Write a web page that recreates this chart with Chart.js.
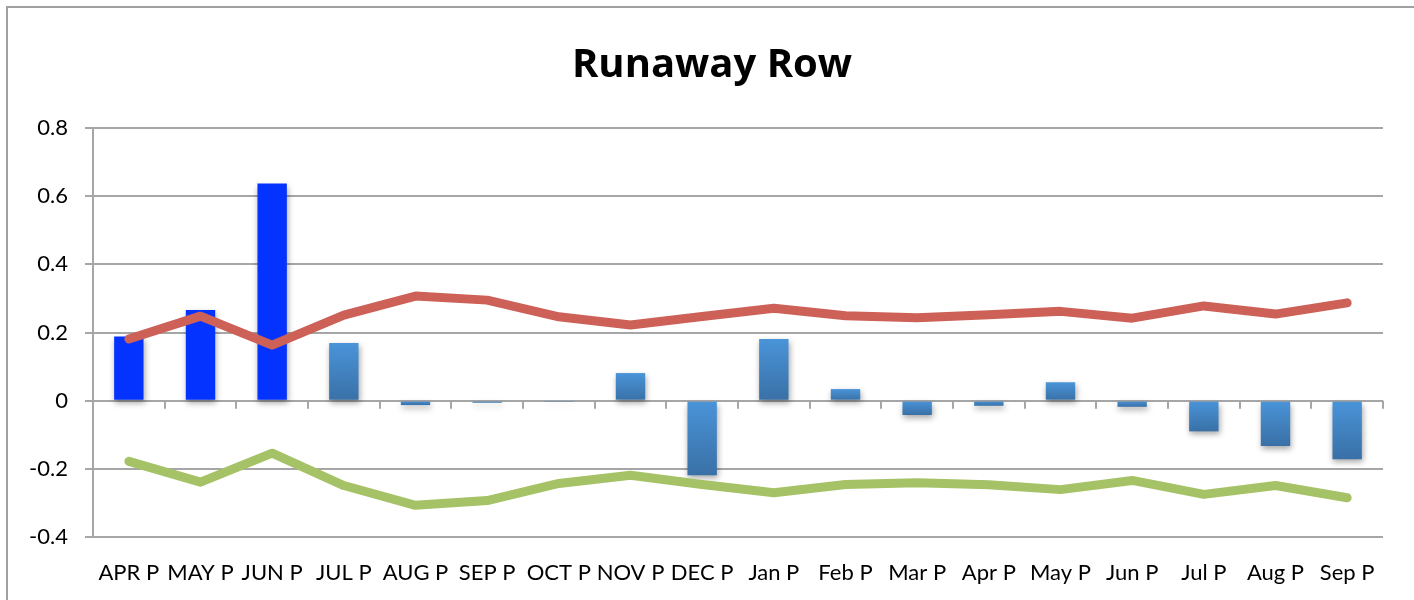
<!DOCTYPE html>
<html>
<head>
<meta charset="utf-8">
<title>Runaway Row</title>
<script src="https://cdn.jsdelivr.net/npm/chart.js@4.4.1/dist/chart.umd.min.js"></script>
<style>
    html, body { margin: 0; padding: 0; background: #fff; overflow: hidden; }
    canvas { display: block; }
</style>
</head>
<body>
<canvas id="runawayChart" width="1414" height="600"></canvas>
<script>
// Data
const months = ['APR P', 'MAY P', 'JUN P', 'JUL P', 'AUG P', 'SEP P', 'OCT P', 'NOV P', 'DEC P',
    'Jan P', 'Feb P', 'Mar P', 'Apr P', 'May P', 'Jun P', 'Jul P', 'Aug P', 'Sep P'];

const rowValues = [0.188, 0.266, 0.637, 0.169, -0.013, -0.006, -0.004, 0.081, -0.219,
    0.181, 0.034, -0.042, -0.015, 0.054, -0.018, -0.090, -0.133, -0.172];

const upperLimit = [0.181, 0.248, 0.163, 0.251, 0.307, 0.295, 0.246, 0.222, 0.247,
    0.271, 0.249, 0.243, 0.252, 0.262, 0.242, 0.278, 0.254, 0.287];

const lowerLimit = [-0.178, -0.239, -0.154, -0.249, -0.307, -0.293, -0.243, -0.219, -0.246,
    -0.270, -0.246, -0.241, -0.247, -0.261, -0.234, -0.275, -0.249, -0.285];

const yTickLabels = ['-0.4', '-0.2', '0', '0.2', '0.4', '0.6', '0.8'];

const chartTitle = 'Runaway Row';

const FONT = 'Lato';
const GRID = '#a6a6a6';

// first three bars are plain bright blue, rest get a gradient
function barColor(context) {
    const i = context.dataIndex;
    if (i < 3) return '#0433ff';
    const chart = context.chart;
    const y = chart.scales.y;
    if (!y || !chart.chartArea) return '#4287cc';
    const v = rowValues[i];
    const top = y.getPixelForValue(Math.max(v, 0));
    const bottom = y.getPixelForValue(Math.min(v, 0));
    const g = chart.ctx.createLinearGradient(0, top, 0, bottom + 0.01);
    g.addColorStop(0, '#4a94d9');
    g.addColorStop(1, '#3970a6');
    return g;
}

// frame, title, bar shadow and category ticks on the zero line
const decorPlugin = {
    id: 'decor',
    beforeDraw(chart) {
        const ctx = chart.ctx;
        ctx.save();
        ctx.strokeStyle = '#a0a0a0';
        ctx.lineWidth = 2;
        ctx.strokeRect(7, 7, chart.width + 20, chart.height + 20);
        // title centred on the whole frame, not just the plot
        ctx.fillStyle = '#000';
        ctx.font = 'bold 40px "Open Sans"';
        ctx.textAlign = 'center';
        ctx.textBaseline = 'alphabetic';
        ctx.fillText(chartTitle, 712, 77);
        ctx.restore();
    },
    beforeDatasetDraw(chart, args) {
        if (args.meta.type === 'bar') {
            const ctx = chart.ctx;
            ctx.save();
            ctx.shadowColor = 'rgba(0,0,0,0.35)';
            ctx.shadowBlur = 6;
            ctx.shadowOffsetX = 1;
            ctx.shadowOffsetY = 3;
        }
    },
    afterDatasetDraw(chart, args) {
        if (args.meta.type === 'bar') chart.ctx.restore();
    },
    beforeDatasetsDraw(chart) {
        const ctx = chart.ctx;
        const area = chart.chartArea;
        const y0 = chart.scales.y.getPixelForValue(0);
        const step = (area.right - area.left) / months.length;
        ctx.save();
        ctx.strokeStyle = GRID;
        ctx.lineWidth = 2;
        ctx.beginPath();
        for (let i = 1; i <= months.length; i++) {
            const x = Math.round(area.left + step * i);
            ctx.moveTo(x, y0);
            ctx.lineTo(x, y0 + 8);
        }
        ctx.stroke();
        ctx.restore();
    }
};

const ctx = document.getElementById('runawayChart').getContext('2d');

new Chart(ctx, {
    data: {
        labels: months,
        datasets: [
            {
                type: 'line',
                label: 'Upper',
                data: upperLimit,
                borderColor: '#cd6158',
                borderWidth: 9,
                pointRadius: 0,
                tension: 0,
                borderCapStyle: 'round',
                borderJoinStyle: 'round',
                order: 1
            },
            {
                type: 'line',
                label: 'Lower',
                data: lowerLimit,
                borderColor: '#a6c266',
                borderWidth: 9,
                pointRadius: 0,
                tension: 0,
                borderCapStyle: 'round',
                borderJoinStyle: 'round',
                order: 1
            },
            {
                type: 'bar',
                label: 'Row',
                data: rowValues,
                backgroundColor: barColor,
                borderWidth: 0,
                categoryPercentage: 1,
                barPercentage: 0.41,
                order: 2
            }
        ]
    },
    options: {
        responsive: false,
        animation: false,
        layout: { padding: { left: 0, right: 31, top: 128, bottom: 0 } },
        plugins: {
            legend: { display: false },
            tooltip: { enabled: false },
            title: { display: false }
        },
        scales: {
            x: {
                afterFit(scale) { scale.height = 63; },
                grid: { display: false, drawTicks: false },
                border: { display: false },
                ticks: {
                    color: '#000',
                    font: { family: FONT, size: 22 },
                    padding: 23,
                    maxRotation: 0,
                    autoSkip: false
                }
            },
            y: {
                min: -0.4,
                max: 0.8,
                afterFit(scale) { scale.width = 93; },
                afterBuildTicks(scale) {
                    scale.ticks = yTickLabels.map(t => ({ value: parseFloat(t) }));
                },
                grid: { color: GRID, lineWidth: 2, tickLength: 8 },
                border: { color: GRID, width: 2 },
                ticks: {
                    color: '#000',
                    font: { family: FONT, size: 22 },
                    padding: 17,
                    callback: function(value, index) {
                        return yTickLabels[index];
                    }
                }
            }
        }
    },
    plugins: [decorPlugin]
});
</script>
</body>
</html>
